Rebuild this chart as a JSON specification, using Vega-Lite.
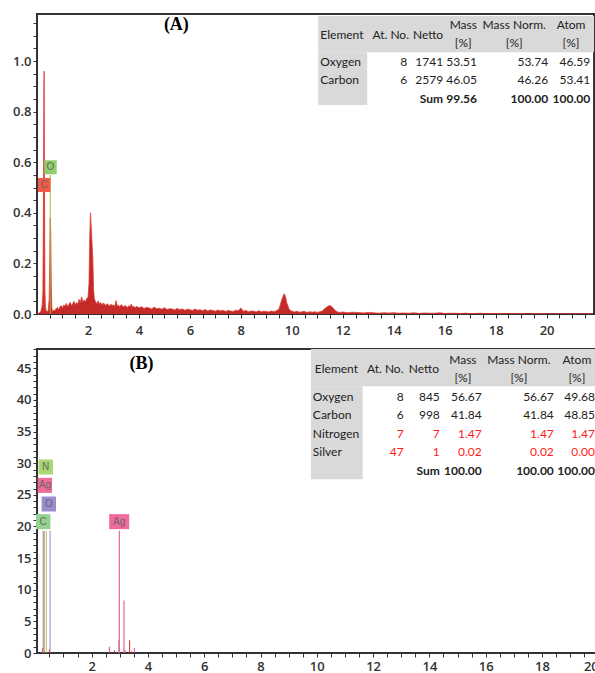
{
  "$schema": "https://vega.github.io/schema/vega-lite/v6.json",
  "padding": {"left": 10, "top": 13, "right": 0, "bottom": 0},
  "spacing": 4,
  "background": "white",
  "config": {
    "view": {"stroke": "#333333", "strokeWidth": 2},
    "axis": {"domain": false, "grid": false, "tickColor": "#333333", "tickSize": 4, "tickWidth": 1, "labelFont": "Open Sans", "labelFontSize": 13, "labelColor": "#333333", "labelPadding": 2, "labelFontWeight": 600, "labelOverlap": false, "tickCount": 200},
    "text": {"font": "Lato", "fontSize": 12, "color": "#222222"}
  },
  "resolve": {"scale": {"x": "independent", "y": "independent", "fill": "independent", "stroke": "independent", "color": "independent", "shape": "independent"}},
  "datasets": {
    "specA": [
      {"e":0,"c":0},{"e":0.05,"c":0.002},{"e":0.1,"c":0.005},{"e":0.15,"c":0.01},{"e":0.2,"c":0.03},{"e":0.23,"c":0.08},{"e":0.25,"c":0.35},{"e":0.26,"c":0.62},{"e":0.27,"c":0.9},{"e":0.28,"c":0.96},{"e":0.29,"c":0.72},{"e":0.3,"c":0.3},{"e":0.31,"c":0.1},{"e":0.33,"c":0.03},{"e":0.36,"c":0.012},{"e":0.4,"c":0.01},{"e":0.44,"c":0.014},{"e":0.48,"c":0.06},{"e":0.5,"c":0.2},{"e":0.52,"c":0.38},{"e":0.54,"c":0.32},{"e":0.56,"c":0.12},{"e":0.58,"c":0.03},{"e":0.6,"c":0.008},
      {"e":0.65,"c":0.016},{"e":0.7,"c":0.013},{"e":0.75,"c":0.021},{"e":0.8,"c":0.026},{"e":0.85,"c":0.017},{"e":0.9,"c":0.029},{"e":0.95,"c":0.033},{"e":1.0,"c":0.024},{"e":1.05,"c":0.036},{"e":1.1,"c":0.031},{"e":1.15,"c":0.042},{"e":1.2,"c":0.029},{"e":1.25,"c":0.038},{"e":1.3,"c":0.046},{"e":1.35,"c":0.034},{"e":1.4,"c":0.041},{"e":1.45,"c":0.05},{"e":1.5,"c":0.037},{"e":1.55,"c":0.045},{"e":1.6,"c":0.039},{"e":1.65,"c":0.058},{"e":1.7,"c":0.044},{"e":1.75,"c":0.068},{"e":1.8,"c":0.047},{"e":1.85,"c":0.055},{"e":1.9,"c":0.049},{"e":1.95,"c":0.061},{"e":2.0,"c":0.065},{"e":2.04,"c":0.12},{"e":2.07,"c":0.3},{"e":2.1,"c":0.4},{"e":2.13,"c":0.34},{"e":2.16,"c":0.28},{"e":2.19,"c":0.22},{"e":2.22,"c":0.1},{"e":2.25,"c":0.06},{"e":2.3,"c":0.048},{"e":2.35,"c":0.041},{"e":2.4,"c":0.052},{"e":2.45,"c":0.039},{"e":2.5,"c":0.045},{"e":2.55,"c":0.036},{"e":2.6,"c":0.043},{"e":2.65,"c":0.04},{"e":2.7,"c":0.033},{"e":2.75,"c":0.041},{"e":2.8,"c":0.037},{"e":2.85,"c":0.031},{"e":2.9,"c":0.039},{"e":2.95,"c":0.034},{"e":3.0,"c":0.036},{"e":3.05,"c":0.03},{"e":3.1,"c":0.053},{"e":3.15,"c":0.032},{"e":3.2,"c":0.035},{"e":3.25,"c":0.029},{"e":3.3,"c":0.037},{"e":3.35,"c":0.033},{"e":3.4,"c":0.028},{"e":3.45,"c":0.034},{"e":3.5,"c":0.03},{"e":3.55,"c":0.026},{"e":3.6,"c":0.033},{"e":3.65,"c":0.029},{"e":3.7,"c":0.039},{"e":3.75,"c":0.027},{"e":3.8,"c":0.031},{"e":3.85,"c":0.025},{"e":3.9,"c":0.03},{"e":3.95,"c":0.028},{"e":4.0,"c":0.024},
      {"e":4.1,"c":0.029},{"e":4.2,"c":0.022},{"e":4.3,"c":0.026},{"e":4.4,"c":0.024},{"e":4.5,"c":0.02},{"e":4.6,"c":0.027},{"e":4.7,"c":0.021},{"e":4.8,"c":0.023},{"e":4.9,"c":0.019},{"e":5.0,"c":0.025},{"e":5.1,"c":0.018},{"e":5.2,"c":0.021},{"e":5.3,"c":0.02},{"e":5.4,"c":0.016},{"e":5.5,"c":0.022},{"e":5.6,"c":0.017},{"e":5.7,"c":0.02},{"e":5.8,"c":0.015},{"e":5.9,"c":0.019},{"e":6.0,"c":0.017},{"e":6.1,"c":0.014},{"e":6.2,"c":0.02},{"e":6.3,"c":0.015},{"e":6.4,"c":0.017},{"e":6.5,"c":0.013},{"e":6.6,"c":0.018},{"e":6.7,"c":0.012},{"e":6.8,"c":0.016},{"e":6.9,"c":0.014},{"e":7.0,"c":0.011},{"e":7.1,"c":0.016},{"e":7.2,"c":0.012},{"e":7.3,"c":0.015},{"e":7.4,"c":0.01},{"e":7.5,"c":0.014},{"e":7.6,"c":0.012},{"e":7.7,"c":0.01},{"e":7.8,"c":0.015},{"e":7.9,"c":0.013},{"e":8.0,"c":0.024},{"e":8.1,"c":0.011},{"e":8.2,"c":0.014},{"e":8.3,"c":0.009},{"e":8.4,"c":0.012},{"e":8.5,"c":0.011},{"e":8.6,"c":0.008},{"e":8.7,"c":0.013},{"e":8.8,"c":0.009},{"e":8.9,"c":0.011},{"e":9.0,"c":0.01},{"e":9.1,"c":0.008},{"e":9.2,"c":0.012},{"e":9.3,"c":0.009},{"e":9.4,"c":0.013},{"e":9.5,"c":0.02},{"e":9.6,"c":0.055},{"e":9.7,"c":0.08},{"e":9.75,"c":0.07},{"e":9.8,"c":0.045},{"e":9.9,"c":0.018},{"e":10.0,"c":0.011},{"e":10.1,"c":0.008},{"e":10.2,"c":0.011},{"e":10.3,"c":0.007},{"e":10.4,"c":0.009},{"e":10.5,"c":0.01},{"e":10.6,"c":0.006},{"e":10.7,"c":0.009},{"e":10.8,"c":0.007},{"e":10.9,"c":0.009},{"e":11.0,"c":0.006},{"e":11.1,"c":0.009},{"e":11.2,"c":0.012},{"e":11.3,"c":0.022},{"e":11.4,"c":0.03},{"e":11.5,"c":0.034},{"e":11.6,"c":0.026},{"e":11.7,"c":0.014},{"e":11.8,"c":0.008},{"e":11.9,"c":0.006},{"e":12.0,"c":0.008},
      {"e":12.2,"c":0.005},{"e":12.4,"c":0.007},{"e":12.6,"c":0.006},{"e":12.8,"c":0.004},{"e":13.0,"c":0.006},{"e":13.2,"c":0.005},{"e":13.4,"c":0.003},{"e":13.6,"c":0.005},{"e":13.8,"c":0.004},{"e":14.0,"c":0.005},{"e":14.2,"c":0.003},{"e":14.4,"c":0.004},{"e":14.6,"c":0.003},{"e":14.8,"c":0.005},{"e":15.0,"c":0.002},{"e":15.2,"c":0.004},{"e":15.4,"c":0.003},{"e":15.6,"c":0.003},{"e":15.8,"c":0.005},{"e":16.0,"c":0.002},{"e":16.2,"c":0.003},{"e":16.4,"c":0.003},{"e":16.6,"c":0.002},{"e":16.8,"c":0.003},{"e":17.0,"c":0.002},{"e":17.2,"c":0.002},{"e":17.4,"c":0.003},{"e":17.6,"c":0.002},{"e":17.8,"c":0.002},{"e":18.0,"c":0.002},{"e":18.2,"c":0.002},{"e":18.4,"c":0.001},{"e":18.6,"c":0.002},{"e":18.8,"c":0.001},{"e":19.0,"c":0.002},{"e":19.2,"c":0.001},{"e":19.4,"c":0.001},{"e":19.6,"c":0.002},{"e":19.8,"c":0.001},{"e":20.0,"c":0.001},{"e":20.2,"c":0.001},{"e":20.4,"c":0.001},{"e":20.6,"c":0.001},{"e":20.8,"c":0.001},{"e":21.0,"c":0.001},{"e":21.2,"c":0.001},{"e":21.4,"c":0.001},{"e":21.6,"c":0.001},{"e":21.8,"c":0.001}
    ],
    "linesA": [
      {"e":0.277,"top":0.48,"el":"C"},
      {"e":0.52,"top":0.55,"el":"O"}
    ],
    "labelsA": [
      {"lx":0.28,"ly":0.51,"el":"C","t":"C"},
      {"lx":0.53,"ly":0.58,"el":"O","t":"O"}
    ],
    "bgA": [
      {"x1":11.04,"x2":21.86,"y1":1.035,"y2":1.178},
      {"x1":11.04,"x2":12.96,"y1":0.826,"y2":1.035}
    ],
    "tblA": [
      {"x":16.73,"y":1.142,"t":"Mass","kind":"c","row":"head"},
      {"x":18.73,"y":1.142,"t":"Mass Norm.","kind":"c","row":"head"},
      {"x":20.96,"y":1.142,"t":"Atom","kind":"c","row":"head"},
      {"x":16.73,"y":1.071,"t":"[%]","kind":"c","row":"head"},
      {"x":18.73,"y":1.071,"t":"[%]","kind":"c","row":"head"},
      {"x":20.96,"y":1.071,"t":"[%]","kind":"c","row":"head"},
      {"x":11.12,"y":1.103,"t":"Element","kind":"l","row":"head"},
      {"x":14.6,"y":1.103,"t":"At. No.","kind":"r","row":"head"},
      {"x":15.94,"y":1.103,"t":"Netto","kind":"r","row":"head"},
      {"x":11.12,"y":0.995,"t":"Oxygen","kind":"l","row":"Oxygen"},
      {"x":14.53,"y":0.995,"t":"8","kind":"r","row":"Oxygen"},
      {"x":15.94,"y":0.995,"t":"1741","kind":"r","row":"Oxygen"},
      {"x":17.27,"y":0.995,"t":"53.51","kind":"r","row":"Oxygen"},
      {"x":20.06,"y":0.995,"t":"53.74","kind":"r","row":"Oxygen"},
      {"x":21.71,"y":0.995,"t":"46.59","kind":"r","row":"Oxygen"},
      {"x":11.12,"y":0.924,"t":"Carbon","kind":"l","row":"Carbon"},
      {"x":14.53,"y":0.924,"t":"6","kind":"r","row":"Carbon"},
      {"x":15.94,"y":0.924,"t":"2579","kind":"r","row":"Carbon"},
      {"x":17.27,"y":0.924,"t":"46.05","kind":"r","row":"Carbon"},
      {"x":20.06,"y":0.924,"t":"46.26","kind":"r","row":"Carbon"},
      {"x":21.71,"y":0.924,"t":"53.41","kind":"r","row":"Carbon"},
      {"x":15.94,"y":0.849,"t":"Sum","kind":"b","row":"Sum"},
      {"x":17.27,"y":0.849,"t":"99.56","kind":"b","row":"Sum"},
      {"x":20.06,"y":0.849,"t":"100.00","kind":"b","row":"Sum"},
      {"x":21.71,"y":0.849,"t":"100.00","kind":"b","row":"Sum"}
    ],
    "titleA": [{"x":5.47,"y":1.142,"t":"(A)"}],
    "specB": [
      {"e":0.26,"c":0.8,"el":"meas"},
      {"e":0.5,"c":0.6,"el":"meas"},
      {"e":2.63,"c":1.0,"el":"Ag"},
      {"e":2.81,"c":0.4,"el":"meas"},
      {"e":2.96,"c":2.0,"el":"fit"},
      {"e":3.15,"c":8.3,"el":"Ag"},
      {"e":3.19,"c":0.5,"el":"Ag"},
      {"e":3.35,"c":2.0,"el":"meas"},
      {"e":3.42,"c":0.3,"el":"Ag"},
      {"e":3.52,"c":0.8,"el":"Ag"}
    ],
    "linesB": [
      {"e":0.277,"top":19.3,"el":"C"},
      {"e":0.311,"top":19.3,"el":"Ag"},
      {"e":0.392,"top":19.3,"el":"N"},
      {"e":0.525,"top":19.3,"el":"O"},
      {"e":2.984,"top":19.3,"el":"Ag"}
    ],
    "labelsB": [
      {"lx":0.28,"ly":20.76,"el":"C","t":"C"},
      {"lx":0.34,"ly":26.5,"el":"Ag","t":"Ag"},
      {"lx":0.37,"ly":29.4,"el":"N","t":"N"},
      {"lx":0.48,"ly":23.55,"el":"O","t":"O"},
      {"lx":2.98,"ly":20.76,"el":"Ag","t":"Ag"}
    ],
    "bgB": [
      {"x1":9.79,"x2":20.025,"y1":42.15,"y2":48.05},
      {"x1":9.79,"x2":11.63,"y1":27.45,"y2":42.15}
    ],
    "tblB": [
      {"x":15.19,"y":46.26,"t":"Mass","kind":"c","row":"head"},
      {"x":17.18,"y":46.26,"t":"Mass Norm.","kind":"c","row":"head"},
      {"x":19.24,"y":46.26,"t":"Atom","kind":"c","row":"head"},
      {"x":15.19,"y":43.42,"t":"[%]","kind":"c","row":"head"},
      {"x":17.18,"y":43.42,"t":"[%]","kind":"c","row":"head"},
      {"x":19.24,"y":43.42,"t":"[%]","kind":"c","row":"head"},
      {"x":9.93,"y":44.84,"t":"Element","kind":"l","row":"head"},
      {"x":13.08,"y":44.84,"t":"At. No.","kind":"r","row":"head"},
      {"x":14.34,"y":44.84,"t":"Netto","kind":"r","row":"head"},
      {"x":9.86,"y":40.41,"t":"Oxygen","kind":"l","row":"Oxygen"},
      {"x":13.09,"y":40.41,"t":"8","kind":"r","row":"Oxygen"},
      {"x":14.37,"y":40.41,"t":"845","kind":"r","row":"Oxygen"},
      {"x":15.86,"y":40.41,"t":"56.67","kind":"r","row":"Oxygen"},
      {"x":18.42,"y":40.41,"t":"56.67","kind":"r","row":"Oxygen"},
      {"x":19.88,"y":40.41,"t":"49.68","kind":"r","row":"Oxygen"},
      {"x":9.86,"y":37.57,"t":"Carbon","kind":"l","row":"Carbon"},
      {"x":13.09,"y":37.57,"t":"6","kind":"r","row":"Carbon"},
      {"x":14.37,"y":37.57,"t":"998","kind":"r","row":"Carbon"},
      {"x":15.86,"y":37.57,"t":"41.84","kind":"r","row":"Carbon"},
      {"x":18.42,"y":37.57,"t":"41.84","kind":"r","row":"Carbon"},
      {"x":19.88,"y":37.57,"t":"48.85","kind":"r","row":"Carbon"},
      {"x":9.86,"y":34.57,"t":"Nitrogen","kind":"l","row":"Nitrogen"},
      {"x":13.09,"y":34.57,"t":"7","kind":"r","row":"Nitrogen"},
      {"x":14.37,"y":34.57,"t":"7","kind":"r","row":"Nitrogen"},
      {"x":15.86,"y":34.57,"t":"1.47","kind":"r","row":"Nitrogen"},
      {"x":18.42,"y":34.57,"t":"1.47","kind":"r","row":"Nitrogen"},
      {"x":19.88,"y":34.57,"t":"1.47","kind":"r","row":"Nitrogen"},
      {"x":9.86,"y":31.72,"t":"Silver","kind":"l","row":"Silver"},
      {"x":13.09,"y":31.72,"t":"47","kind":"r","row":"Silver"},
      {"x":14.37,"y":31.72,"t":"1","kind":"r","row":"Silver"},
      {"x":15.86,"y":31.72,"t":"0.02","kind":"r","row":"Silver"},
      {"x":18.42,"y":31.72,"t":"0.02","kind":"r","row":"Silver"},
      {"x":19.88,"y":31.72,"t":"0.00","kind":"r","row":"Silver"},
      {"x":14.37,"y":28.72,"t":"Sum","kind":"b","row":"Sum"},
      {"x":15.86,"y":28.72,"t":"100.00","kind":"b","row":"Sum"},
      {"x":18.42,"y":28.72,"t":"100.00","kind":"b","row":"Sum"},
      {"x":19.88,"y":28.72,"t":"100.00","kind":"b","row":"Sum"}
    ],
    "titleB": [{"x":3.77,"y":45.7,"t":"(B)"}]
  },
  "vconcat": [
    {
      "width": 557,
      "height": 300,
      "layer": [
        {
          "data": {"name": "specA"},
          "mark": {"type": "area", "color": "#c42a28", "opacity": 1, "fillOpacity": 1, "line": {"color": "#e03c36", "strokeWidth": 0.8}, "clip": true},
          "encoding": {
            "x": {"field": "e", "type": "quantitative", "scale": {"domain": [0, 21.86], "nice": false, "zero": false},
              "axis": {"title": null, "labelOverlap": false, "tickCount": 200, "labelPadding": 6, "values": [0.5,1,1.5,2,2.5,3,3.5,4,4.5,5,5.5,6,6.5,7,7.5,8,8.5,9,9.5,10,10.5,11,11.5,12,12.5,13,13.5,14,14.5,15,15.5,16,16.5,17,17.5,18,18.5,19,19.5,20,20.5,21,21.5],
                "labelExpr": "datum.value % 2 === 0 ? format(datum.value, 'd') : ''"}},
            "y": {"field": "c", "type": "quantitative", "scale": {"domain": [0, 1.186], "nice": false},
              "axis": {"title": null, "labelOverlap": false, "tickCount": 200, "minExtent": 26, "values": [0,0.05,0.1,0.15,0.2,0.25,0.3,0.35,0.4,0.45,0.5,0.55,0.6,0.65,0.7,0.75,0.8,0.85,0.9,0.95,1,1.05,1.1,1.15],
                "labelExpr": "abs(datum.value*5 - round(datum.value*5)) < 0.001 ? format(datum.value, '.1f') : ''"}}
          }
        },
        {
          "data": {"name": "bgA"},
          "mark": {"type": "rect", "color": "#d9d9d9"},
          "encoding": {
            "x": {"field": "x1", "type": "quantitative"}, "x2": {"field": "x2"},
            "y": {"field": "y1", "type": "quantitative"}, "y2": {"field": "y2"}
          }
        },
        {
          "data": {"name": "linesA"},
          "mark": {"type": "rule", "strokeWidth": 1},
          "encoding": {
            "x": {"field": "e", "type": "quantitative"},
            "y": {"field": "top", "type": "quantitative"},
            "y2": {"datum": 0},
            "stroke": {"field": "el", "type": "nominal", "scale": {"domain": ["C","O"], "range": ["#e8392c","#a6b63c"]}, "legend": null}
          }
        },
        {
          "data": {"name": "labelsA"},
          "mark": {"type": "point", "filled": true, "opacity": 1, "size": 400, "shape": "M-0.62,-0.7L0.62,-0.7L0.62,0.7L-0.62,0.7Z", "strokeWidth": 0},
          "encoding": {
            "x": {"field": "lx", "type": "quantitative"},
            "y": {"field": "ly", "type": "quantitative"},
            "fill": {"field": "el", "type": "nominal", "scale": {"domain": ["C","O"], "range": ["#f25a48","#8fcf6b"]}, "legend": null}
          }
        },
        {
          "data": {"name": "labelsA"},
          "mark": {"type": "text", "font": "Liberation Sans", "fontSize": 10, "color": "#666666"},
          "encoding": {
            "x": {"field": "lx", "type": "quantitative"},
            "y": {"field": "ly", "type": "quantitative"},
            "text": {"field": "t"}
          }
        },
        {
          "data": {"name": "tblA"},
          "transform": [{"filter": "datum.kind === 'c'"}],
          "mark": {"type": "text", "align": "center", "baseline": "middle"},
          "encoding": {"x": {"field": "x", "type": "quantitative"}, "y": {"field": "y", "type": "quantitative"}, "text": {"field": "t"}}
        },
        {
          "data": {"name": "tblA"},
          "transform": [{"filter": "datum.kind === 'l'"}],
          "mark": {"type": "text", "align": "left", "baseline": "middle"},
          "encoding": {"x": {"field": "x", "type": "quantitative"}, "y": {"field": "y", "type": "quantitative"}, "text": {"field": "t"}}
        },
        {
          "data": {"name": "tblA"},
          "transform": [{"filter": "datum.kind === 'r'"}],
          "mark": {"type": "text", "align": "right", "baseline": "middle"},
          "encoding": {"x": {"field": "x", "type": "quantitative"}, "y": {"field": "y", "type": "quantitative"}, "text": {"field": "t"}}
        },
        {
          "data": {"name": "tblA"},
          "transform": [{"filter": "datum.kind === 'b'"}],
          "mark": {"type": "text", "align": "right", "baseline": "middle", "fontWeight": "bold"},
          "encoding": {"x": {"field": "x", "type": "quantitative"}, "y": {"field": "y", "type": "quantitative"}, "text": {"field": "t"}}
        },
        {
          "data": {"name": "titleA"},
          "mark": {"type": "text", "font": "Liberation Serif", "fontSize": 18, "fontWeight": "bold", "color": "#000000", "baseline": "middle"},
          "encoding": {"x": {"field": "x", "type": "quantitative"}, "y": {"field": "y", "type": "quantitative"}, "text": {"field": "t"}}
        }
      ]
    },
    {
      "width": 562,
      "height": 304,
      "layer": [
        {
          "data": {"name": "bgB"},
          "mark": {"type": "rect", "color": "#d9d9d9"},
          "encoding": {
            "x": {"field": "x1", "type": "quantitative", "scale": {"domain": [0.06, 20.025], "nice": false, "zero": false},
              "axis": {"title": null, "labelOverlap": false, "tickCount": 200, "labelPadding": 3, "labelFlush": 3, "values": [0.5,1,1.5,2,2.5,3,3.5,4,4.5,5,5.5,6,6.5,7,7.5,8,8.5,9,9.5,10,10.5,11,11.5,12,12.5,13,13.5,14,14.5,15,15.5,16,16.5,17,17.5,18,18.5,19,19.5,20],
                "labelExpr": "datum.value % 2 === 0 ? format(datum.value, 'd') : ''"}},
            "x2": {"field": "x2"},
            "y": {"field": "y1", "type": "quantitative", "scale": {"domain": [0, 48.05], "nice": false},
              "axis": {"title": null, "labelOverlap": false, "tickCount": 200, "minExtent": 21, "values": [0,1,2,3,4,5,6,7,8,9,10,11,12,13,14,15,16,17,18,19,20,21,22,23,24,25,26,27,28,29,30,31,32,33,34,35,36,37,38,39,40,41,42,43,44,45,46,47,48],
                "labelExpr": "datum.value % 5 === 0 ? format(datum.value, 'd') : ''"}},
            "y2": {"field": "y2"}
          }
        },
        {
          "data": {"name": "specB"},
          "mark": {"type": "rule", "strokeWidth": 1},
          "encoding": {
            "x": {"field": "e", "type": "quantitative"},
            "y": {"field": "c", "type": "quantitative"},
            "y2": {"datum": 0},
            "stroke": {"field": "el", "type": "nominal", "scale": {"domain": ["C","N","O","Ag","meas","fit"], "range": ["#7fcf7f","#a6d35a","#9a86cc","#e8458c","#d42a2a","#a8a8a8"]}, "legend": null}
          }
        },
        {
          "data": {"name": "linesB"},
          "mark": {"type": "rule", "strokeWidth": 1},
          "encoding": {
            "x": {"field": "e", "type": "quantitative"},
            "y": {"field": "top", "type": "quantitative"},
            "y2": {"datum": 0},
            "stroke": {"field": "el", "type": "nominal", "scale": {"domain": ["C","N","O","Ag","meas","fit"], "range": ["#7fcf7f","#a6d35a","#9a86cc","#e8458c","#d42a2a","#a8a8a8"]}, "legend": null}
          }
        },
        {
          "data": {"name": "labelsB"},
          "mark": {"type": "point", "filled": true, "opacity": 1, "size": 400, "strokeWidth": 0},
          "encoding": {
            "x": {"field": "lx", "type": "quantitative"},
            "y": {"field": "ly", "type": "quantitative"},
            "shape": {"condition": {"test": "datum.lx > 1", "value": "M-1,-0.75L1,-0.75L1,0.75L-1,0.75Z"}, "value": "M-0.72,-0.75L0.72,-0.75L0.72,0.75L-0.72,0.75Z"},
            "fill": {"field": "el", "type": "nominal", "scale": {"domain": ["C","N","O","Ag"], "range": ["#93d38f","#a9d873","#9c8ccf","#f06b9b"]}, "legend": null}
          }
        },
        {
          "data": {"name": "labelsB"},
          "mark": {"type": "text", "font": "Liberation Sans", "fontSize": 10, "color": "#666666"},
          "encoding": {
            "x": {"field": "lx", "type": "quantitative"},
            "y": {"field": "ly", "type": "quantitative"},
            "text": {"field": "t"}
          }
        },
        {
          "data": {"name": "tblB"},
          "transform": [{"filter": "datum.kind === 'c'"}],
          "mark": {"type": "text", "align": "center", "baseline": "middle"},
          "encoding": {"x": {"field": "x", "type": "quantitative"}, "y": {"field": "y", "type": "quantitative"}, "text": {"field": "t"}}
        },
        {
          "data": {"name": "tblB"},
          "transform": [{"filter": "datum.kind === 'l'"}],
          "mark": {"type": "text", "align": "left", "baseline": "middle"},
          "encoding": {"x": {"field": "x", "type": "quantitative"}, "y": {"field": "y", "type": "quantitative"}, "text": {"field": "t"}}
        },
        {
          "data": {"name": "tblB"},
          "transform": [{"filter": "datum.kind === 'r'"}],
          "mark": {"type": "text", "align": "right", "baseline": "middle"},
          "encoding": {
            "x": {"field": "x", "type": "quantitative"}, "y": {"field": "y", "type": "quantitative"}, "text": {"field": "t"},
            "color": {"condition": {"test": "datum.row === 'Nitrogen' || datum.row === 'Silver'", "value": "#ff1a1a"}, "value": "#222222"}
          }
        },
        {
          "data": {"name": "tblB"},
          "transform": [{"filter": "datum.kind === 'b'"}],
          "mark": {"type": "text", "align": "right", "baseline": "middle", "fontWeight": "bold"},
          "encoding": {"x": {"field": "x", "type": "quantitative"}, "y": {"field": "y", "type": "quantitative"}, "text": {"field": "t"}}
        },
        {
          "data": {"name": "titleB"},
          "mark": {"type": "text", "font": "Liberation Serif", "fontSize": 18, "fontWeight": "bold", "color": "#000000", "baseline": "middle"},
          "encoding": {"x": {"field": "x", "type": "quantitative"}, "y": {"field": "y", "type": "quantitative"}, "text": {"field": "t"}}
        }
      ]
    }
  ]
}
